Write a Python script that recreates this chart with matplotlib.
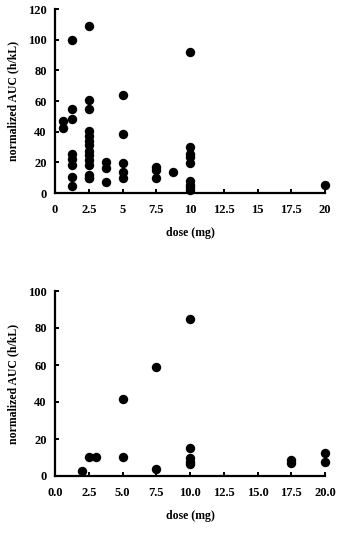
import matplotlib.pyplot as plt
from matplotlib.ticker import FormatStrFormatter

# Panel 1: dose (mg) vs normalized AUC (h/kL)
dose_a = [0.625, 0.625,
          1.25, 1.25, 1.25, 1.25, 1.25, 1.25, 1.25, 1.25,
          2.5, 2.5, 2.5, 2.5, 2.5, 2.5, 2.5, 2.5, 2.5, 2.5, 2.5, 2.5, 2.5, 2.5,
          3.75, 3.75, 3.75,
          5, 5, 5, 5, 5,
          7.5, 7.5, 7.5,
          8.75,
          10, 10, 10, 10, 10, 10, 10, 10, 10,
          20]
auc_a = [47, 42.5,
         99.5, 54.5, 48, 25.5, 22, 18, 10.5, 4.7,
         109, 60.5, 54.5, 40.6, 37.4, 34.2, 31, 27.7, 24.5, 21.3, 18.1, 11.5, 10, 9.5,
         20.3, 16, 7,
         64, 38.3, 19.5, 13.5, 9.6,
         17, 15, 9.6,
         13.9,
         92, 30, 25.5, 23.5, 19.3, 8, 5.5, 4, 2,
         5]

# Panel 2
dose_b = [2, 2.5, 3, 5, 5, 7.5, 7.5, 10, 10, 10, 10, 10, 17.5, 17.5, 20, 20]
auc_b = [2.9, 10.4, 10.4, 41.5, 10.4, 59, 3.6, 85, 15, 9.6, 7.7, 6.3, 8.6, 7.2, 12.6, 7.7]

plt.rcParams['font.family'] = ['Liberation Serif', 'DejaVu Serif']
plt.rcParams['font.weight'] = 'bold'

fig = plt.figure(figsize=(3.43, 5.34), dpi=100)
W, H = 343, 534

# axes boxes in pixels: left, top, right, bottom
ax1 = fig.add_axes([55 / W, 1 - 193 / H, 270 / W, 184 / H])
ax2 = fig.add_axes([55 / W, 1 - 476 / H, 270 / W, 185 / H])

ticks = [0, 2.5, 5, 7.5, 10, 12.5, 15, 17.5, 20]

for ax, x, y, ymax, ystep, fmt in [(ax1, dose_a, auc_a, 120, 20, '%g'),
                                   (ax2, dose_b, auc_b, 100, 20, '%.1f')]:
    ax.scatter(x, y, s=46, color='black', zorder=3, clip_on=False, linewidths=0)
    ax.set_xlim(0, 20)
    ax.set_ylim(0, ymax)
    ax.set_xticks(ticks)
    ax.set_yticks(range(0, ymax + 1, ystep))
    ax.xaxis.set_major_formatter(FormatStrFormatter(fmt))
    for s in ['top', 'right']:
        ax.spines[s].set_visible(False)
    for s in ['left', 'bottom']:
        ax.spines[s].set_linewidth(1.6)
    ax.tick_params(direction='in', length=3, width=1.4, labelsize=9, pad=6)
    ax.tick_params(axis='x', pad=8)
    for lbl in ax.get_xticklabels() + ax.get_yticklabels():
        lbl.set_fontweight('bold')
    ax.set_xlabel('dose (mg)', fontsize=8.5, fontweight='bold', labelpad=8)
    ax.set_ylabel('normalized AUC (h/kL)', fontsize=8.5, fontweight='bold', labelpad=6)

fig.savefig('out.png', dpi=100)
